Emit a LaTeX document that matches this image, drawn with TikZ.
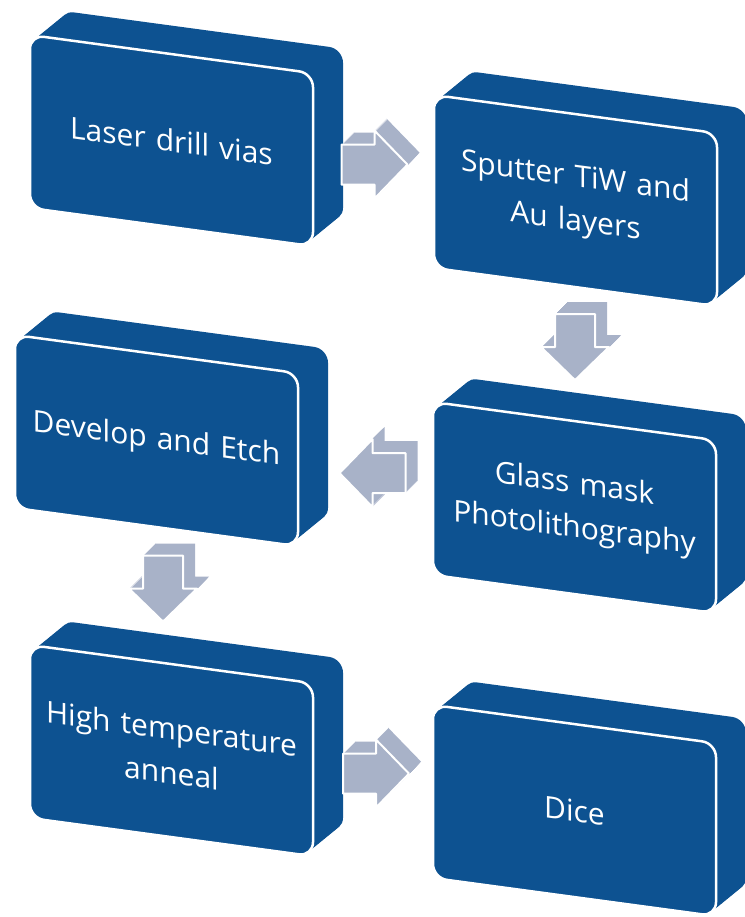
\documentclass[tikz,border=0pt]{standalone}
\usepackage{fontspec}
\setmainfont{Open Sans}
\usetikzlibrary{calc}
\definecolor{boxblue}{RGB}{13,82,145}
\definecolor{arrowgray}{RGB}{168,178,200}

% box with depth, drawn slanted
\newcommand{\processbox}[4]{%
  \begin{scope}[shift={(#2,#3)}, yslant=-0.135]
    \foreach \d in {0,...,15}
      \fill[boxblue, rounded corners=14pt] (-141.5+2*\d, -86.5-1.9*\d) rectangle ++(283,173);
    \node[stepbox] (#1) at (0,0) {#4};
  \end{scope}}

% block arrow with depth
\newcommand{\flowarrow}[2]{%
  \foreach \d in {1,...,12}
    \fill[arrowgray, shift={(#1)}, shift={(\d,-\d)}, rotate=#2]
      (-33,-20) -- (0,-20) -- (0,-34) -- (33,0) -- (0,34) -- (0,20) -- (-33,20) -- cycle;
  \draw[fill=arrowgray, draw=white, line width=2pt, line join=round, shift={(#1)}, rotate=#2]
      (-33,-20) -- (0,-20) -- (0,-34) -- (33,0) -- (0,34) -- (0,20) -- (-33,20) -- cycle;}

\begin{document}
\begin{tikzpicture}[x=1pt, y=-1pt,
    stepbox/.style={draw=white, line width=2.5pt, fill=boxblue, rounded corners=14pt,
      minimum width=283pt, minimum height=173pt, inner sep=0pt, text width=270pt,
      align=center, text=white, font=\fontsize{30}{44}\selectfont, transform shape}]
  \useasboundingbox[fill=white] (0,0) rectangle (744,917);

  \processbox{laser}{171.5}{140.6}{Laser drill vias}
  \processbox{sputter}{575.5}{200.6}{Sputter TiW and\\Au layers}
  \processbox{develop}{156.5}{440.6}{Develop and Etch}
  \processbox{glass}{574.5}{507.6}{Glass mask\\Photolithography}
  \processbox{anneal}{171.5}{750.6}{High temperature\\anneal}
  \processbox{dice}{574.5}{810.6}{Dice}

  \coordinate (a12) at ($(laser.east)!0.5!(sputter.west)+(1,-6)$);
  \coordinate (a24) at ($(sputter.south)!0.5!(glass.north)+(0,-7)$);
  \coordinate (a43) at ($(glass.west)!0.5!(develop.east)+(7,-1)$);
  \coordinate (a35) at ($(develop.south)!0.5!(anneal.north)+(-1,-7)$);
  \coordinate (a56) at ($(anneal.east)!0.5!(dice.west)+(3,-7)$);

  \flowarrow{a12}{0}
  \flowarrow{a24}{-90}
  \flowarrow{a43}{180}
  \flowarrow{a35}{-90}
  \flowarrow{a56}{0}
\end{tikzpicture}
\end{document}
